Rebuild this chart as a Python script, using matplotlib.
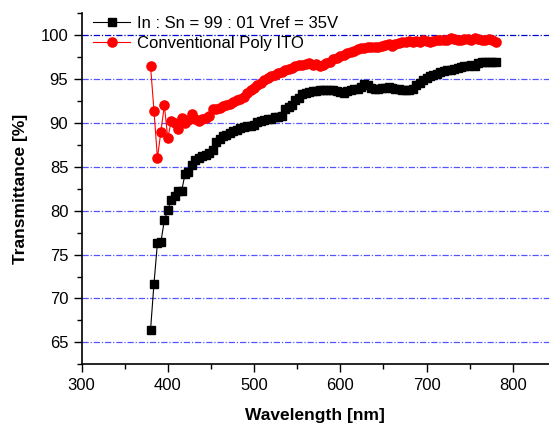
import matplotlib
matplotlib.use('Agg')
import matplotlib.pyplot as plt
from matplotlib.ticker import MultipleLocator

plt.rcParams['font.family'] = ['Liberation Sans', 'DejaVu Sans']

wavelength = [380, 384, 388, 392, 396, 400, 404, 408, 412, 416, 420, 424, 428, 432, 436, 440,
              444, 448, 452, 456, 460, 464, 468, 472, 476, 480, 484, 488, 492, 496, 500, 504,
              508, 512, 516, 520, 524, 528, 532, 536, 540, 544, 548, 552, 556, 560, 564, 568,
              572, 576, 580, 584, 588, 592, 596, 600, 604, 608, 612, 616, 620, 624, 628, 632,
              636, 640, 644, 648, 652, 656, 660, 664, 668, 672, 676, 680, 684, 688, 692, 696,
              700, 704, 708, 712, 716, 720, 724, 728, 732, 736, 740, 744, 748, 752, 756, 760,
              764, 768, 772, 776, 780]

in_sn = [66.4, 71.7, 76.3, 76.4, 78.9, 80.1, 81.2, 81.7, 82.2, 82.2, 84.2, 84.4, 85.2, 85.8, 86.0, 86.2,
         86.4, 86.6, 86.9, 87.8, 88.2, 88.5, 88.6, 88.9, 89.1, 89.2, 89.4, 89.5, 89.6, 89.6, 89.8, 90.1,
         90.2, 90.3, 90.4, 90.5, 90.7, 90.7, 90.8, 91.6, 91.8, 92.0, 92.6, 92.9, 93.3, 93.4, 93.5, 93.6,
         93.6, 93.7, 93.7, 93.8, 93.8, 93.7, 93.6, 93.5, 93.4, 93.6, 93.8, 93.9, 93.9, 94.1, 94.4, 94.3,
         94.0, 93.9, 93.9, 94.0, 94.0, 94.1, 94.0, 93.9, 93.9, 93.8, 93.7, 93.8, 93.9, 94.3, 94.6, 94.9,
         95.1, 95.3, 95.5, 95.6, 95.8, 95.9, 96.0, 96.0, 96.2, 96.3, 96.4, 96.5, 96.5, 96.6, 96.5, 96.8,
         96.9, 97.0, 96.9, 96.9, 96.9]

poly_ito = [96.5, 91.4, 86.0, 89.0, 92.0, 88.3, 90.2, 90.0, 89.3, 90.6, 90.0, 90.3, 91.0, 90.4, 90.2, 90.4,
            90.6, 90.8, 91.6, 91.6, 91.7, 91.9, 92.0, 92.2, 92.4, 92.6, 92.7, 93.0, 93.4, 93.7, 94.0, 94.3,
            94.6, 94.9, 95.1, 95.3, 95.5, 95.7, 95.8, 96.0, 96.2, 96.3, 96.5, 96.6, 96.6, 96.7, 96.8, 96.6,
            96.7, 96.5, 96.6, 96.8, 97.0, 97.3, 97.4, 97.6, 97.8, 98.0, 98.1, 98.2, 98.4, 98.5, 98.5, 98.6,
            98.6, 98.7, 98.6, 98.8, 98.9, 99.0, 98.8, 99.0, 99.1, 99.2, 99.2, 99.3, 99.2, 99.3, 99.2, 99.4,
            99.3, 99.2, 99.3, 99.4, 99.4, 99.5, 99.4, 99.7, 99.6, 99.5, 99.5, 99.6, 99.6, 99.5, 99.7, 99.6,
            99.5, 99.4, 99.6, 99.4, 99.2]

labels = ['In : Sn = 99 : 01 Vref = 35V', 'Conventional Poly ITO']
yticks = [65, 70, 75, 80, 85, 90, 95, 100]

fig = plt.figure(figsize=(5.49, 4.25), dpi=100)
ax = fig.add_axes([0.1485, 0.1428, 0.8515, 0.826])

for y in yticks:
    c = '#0000cc' if y == 100 else '#5555ff'
    ax.axhline(y, color=c, lw=0.9, dashes=(5, 1.5, 1, 1.5), zorder=1)

ax.plot(wavelength, in_sn, color='black', lw=0.8, marker='s', ms=5.8,
        label=labels[0], zorder=3)
ax.plot(wavelength, poly_ito, color='red', lw=0.8, marker='o', ms=6.6,
        label=labels[1], zorder=4)

ax.set_xlim(300, 842)
ax.set_ylim(62.5, 102.5)
ax.set_yticks(yticks)
ax.xaxis.set_major_locator(MultipleLocator(100))
ax.xaxis.set_minor_locator(MultipleLocator(50))
ax.yaxis.set_minor_locator(MultipleLocator(2.5))
ax.tick_params(which='major', direction='out', length=6, width=1, labelsize=12)
ax.tick_params(which='minor', direction='out', length=3.5, width=1)

ax.spines['top'].set_visible(False)
ax.spines['right'].set_visible(False)
ax.spines['left'].set_linewidth(1.2)
ax.spines['bottom'].set_linewidth(1.2)

ax.set_xlabel('Wavelength [nm]', fontsize=12.5, fontweight='bold', labelpad=11)
ax.set_ylabel('Transmittance [%]', fontsize=12.5, fontweight='bold', labelpad=9)

ax.legend(loc='upper left', bbox_to_anchor=(0.0, 1.025), frameon=False, fontsize=12,
          handlelength=2.2, handletextpad=0.4, labelspacing=0.28, borderaxespad=0.3)

fig.savefig('out.png', dpi=100)
